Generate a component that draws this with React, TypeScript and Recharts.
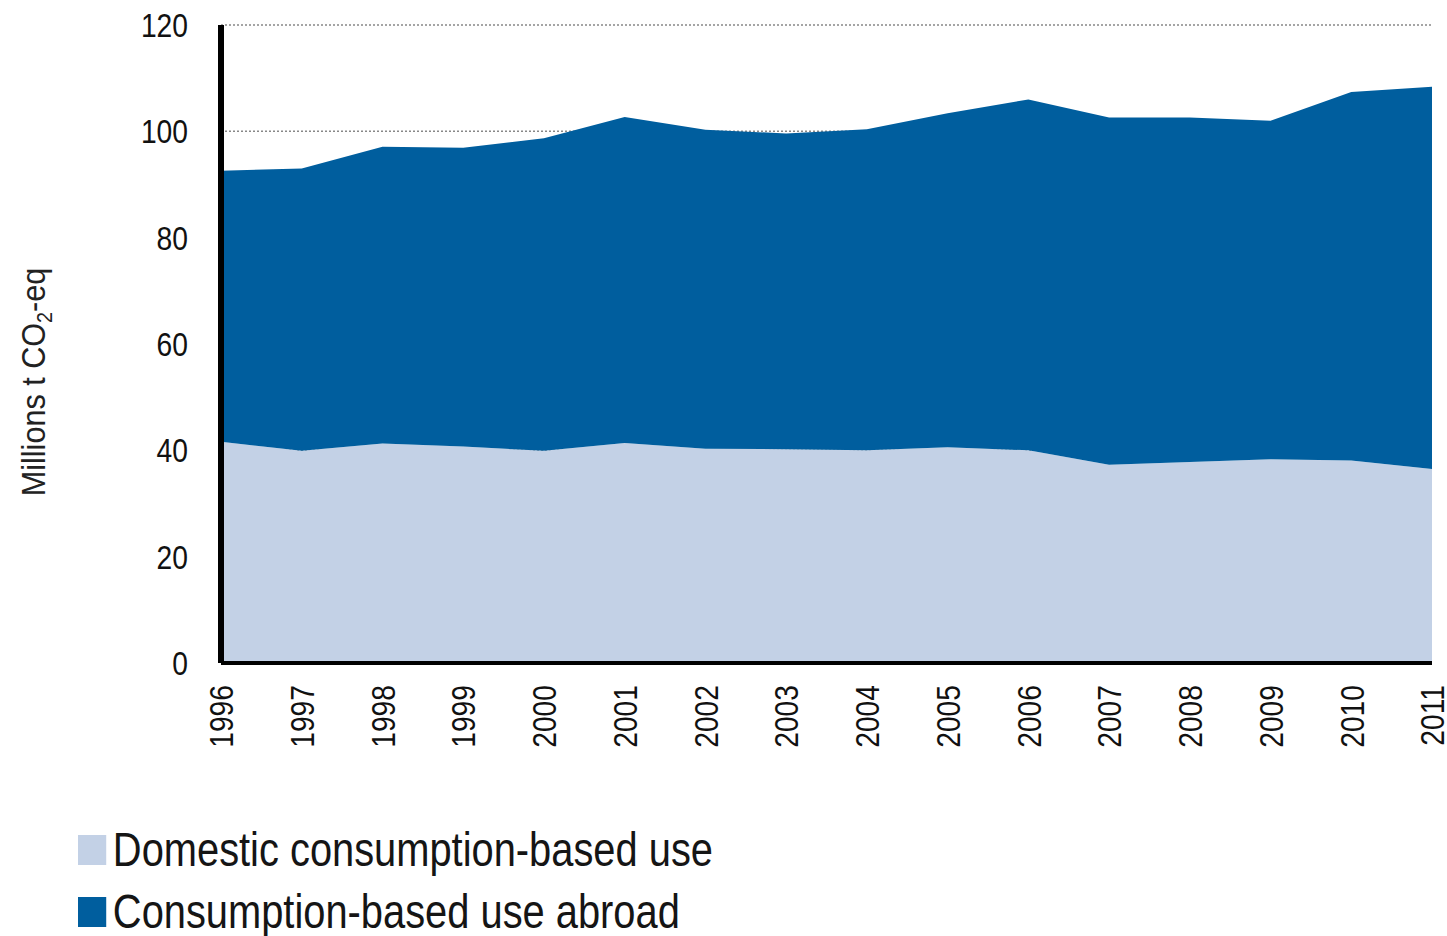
import React from 'react';
import { AreaChart, Area, XAxis, YAxis, CartesianGrid, Legend, Label } from 'recharts';

const years = ['1996', '1997', '1998', '1999', '2000', '2001', '2002', '2003', '2004', '2005', '2006', '2007', '2008', '2009', '2010', '2011'];
const domesticUse = [41.6, 39.9, 41.3, 40.7, 39.9, 41.4, 40.3, 40.2, 40.0, 40.6, 40.0, 37.3, 37.8, 38.3, 38.1, 36.5];
const useAbroad = [51.0, 53.1, 55.8, 56.2, 58.8, 61.3, 60.0, 59.4, 60.4, 62.8, 66.0, 65.3, 64.8, 63.7, 69.3, 71.9];
const yTicks = [0, 20, 40, 60, 80, 100, 120];
const seriesOrder = ['domestic', 'abroad'];

const data = years.map((year, i) => ({ year, domestic: domesticUse[i], abroad: useAbroad[i] }));

// no narrow font installed, so squeeze Liberation Sans horizontally
const FONT = '"Liberation Sans", Arial, sans-serif';
const SQUEEZE = 0.83;

const XTick = ({ x, y, payload }: any) => (
  <text
    transform={`translate(${x}, ${y}) rotate(-90) scale(${SQUEEZE}, 1)`}
    textAnchor="end"
    dy="0.36em"
    fontFamily={FONT}
    fontSize={34}
    fill="#111"
  >
    {payload.value}
  </text>
);

const YTick = ({ x, y, payload }: any) => (
  <text
    transform={`translate(${x}, ${y}) scale(${SQUEEZE}, 1)`}
    textAnchor="end"
    dy="0.355em"
    fontFamily={FONT}
    fontSize={34}
    fill="#111"
  >
    {payload.value}
  </text>
);

const YTitle = () => (
  <text transform="translate(45, 382) rotate(-90) scale(0.9, 1)" textAnchor="middle" fontFamily={FONT} fontSize={34} fill="#222">
    Millions t CO<tspan dy={7} fontSize={22}>2</tspan>
    <tspan dy={-7}>-eq</tspan>
  </text>
);

const renderLegend = ({ payload }: any) => {
  const items = [...(payload || [])].sort(
    (a: any, b: any) => seriesOrder.indexOf(a.dataKey) - seriesOrder.indexOf(b.dataKey)
  );
  return (
    <div
      style={{
        fontFamily: FONT,
        fontSize: 48,
        color: '#151515',
        lineHeight: '62px',
        transform: `scaleX(${SQUEEZE})`,
        transformOrigin: 'left center',
      }}
    >
      {items.map((entry: any) => (
        <div key={entry.value} style={{ display: 'flex', alignItems: 'center', whiteSpace: 'nowrap' }}>
          <span style={{ display: 'inline-block', width: 34, height: 30, background: entry.color, marginRight: 8 }} />
          {entry.value}
        </div>
      ))}
    </div>
  );
};

export default function App() {
  return (
    <div style={{ position: 'absolute', left: 0, top: 0, width: 1447, height: 936, background: '#fff' }}>
      <AreaChart width={1447} height={936} data={data} margin={{ top: 25, right: 15, left: 0, bottom: 0 }}>
        <CartesianGrid vertical={false} stroke="#888" strokeDasharray="2 2" strokeWidth={1.5} />
        <XAxis
          dataKey="year"
          interval={0}
          height={273}
          axisLine={{ stroke: '#000', strokeWidth: 4 }}
          tickLine={false}
          tickSize={0}
          tickMargin={22}
          tick={<XTick />}
        />
        <YAxis
          width={221}
          domain={[0, 120]}
          ticks={yTicks}
          interval={0}
          axisLine={{ stroke: '#000', strokeWidth: 6 }}
          tickLine={false}
          tickSize={0}
          tickMargin={33}
          tick={<YTick />}
        >
          <Label content={<YTitle />} />
        </YAxis>
        <Legend
          layout="vertical"
          align="center"
          verticalAlign="middle"
          content={renderLegend}
          wrapperStyle={{ left: 78, top: 819, width: 900 }}
        />
        <Area
          type="linear"
          dataKey="domestic"
          name="Domestic consumption-based use"
          stackId="1"
          stroke="none"
          fill="#c3d1e6"
          fillOpacity={1}
          isAnimationActive={false}
        />
        <Area
          type="linear"
          dataKey="abroad"
          name="Consumption-based use abroad"
          stackId="1"
          stroke="none"
          fill="#005e9e"
          fillOpacity={1}
          isAnimationActive={false}
        />
      </AreaChart>
    </div>
  );
}
